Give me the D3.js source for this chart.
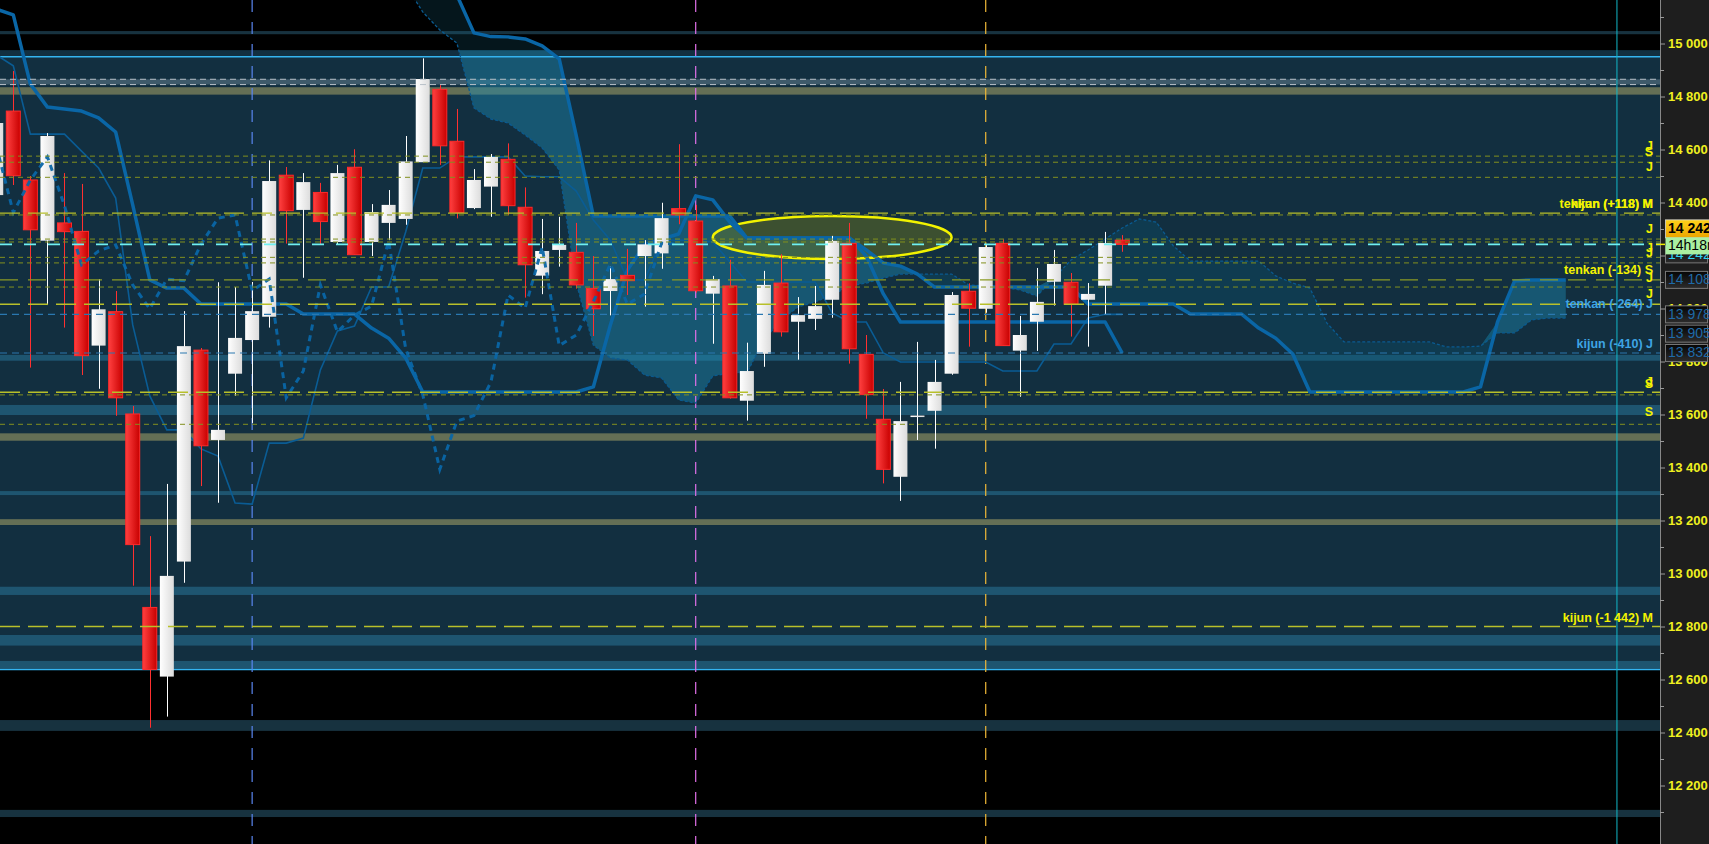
<!DOCTYPE html>
<html><head><meta charset="utf-8">
<script src="https://cdn.jsdelivr.net/npm/d3@7"></script>
<style>html,body{margin:0;padding:0;background:#000;overflow:hidden}svg{display:block}</style>
</head><body>
<svg id="chart" width="1709" height="844"></svg>
<script>
// ---------------- DATA ----------------
const firstBar = -1; // index of first candle in arrays below
const opens  = [14428,14745,14485,14256,14323,14291,13860,13988,13602,12872,12611,13045,13843,13504,13754,13881,13969,14503,14372,14438,14251,14533,14251,14323,14338,14552,14827,14631,14379,14460,14563,14382,14124,14221,14212,14076,14066,14125,14198,14208,14377,14330,14056,14085,13652,13829,14096,13950,13961,14033,14246,13827,13582,13365,13592,13614,13754,14065,13999,14246,13841,13950,14101,14099,14033,14086,14258];
const highs  = [14719,14896,14500,14662,14511,14470,14111,14066,13632,13141,13338,13990,13851,14099,14081,14100,14559,14534,14511,14474,14542,14601,14394,14447,14651,14944,14843,14753,14526,14583,14623,14457,14338,14346,14323,14198,14158,14225,14258,14399,14620,14391,14123,14184,13871,14142,14205,14043,14085,14274,14323,13900,13696,13723,13874,13806,14062,14095,14242,14261,13972,14153,14221,14134,14096,14289,14277];
const lows   = [14409,14466,13777,14013,13928,13749,13697,13595,12954,12418,12460,12965,13330,13267,13671,13568,13928,14245,14116,14240,14243,14203,14198,14258,14316,14552,14542,14340,14375,14346,14353,14041,14054,14158,14075,13896,13974,14051,14007,14150,14318,14060,13867,13660,13577,13780,13894,13807,13919,13965,13792,13584,13340,13274,13504,13471,13750,13856,13984,13860,13667,13840,14011,13894,13856,13979,14214];
const closes = [14700,14501,14297,14651,14290,13822,13997,13663,13109,12638,12991,13858,13482,13542,13889,13990,14481,14369,14477,14328,14511,14203,14364,14391,14555,14866,14614,14362,14485,14572,14388,14165,14217,14240,14089,13999,14111,14105,14242,14341,14353,14067,14111,13663,13764,14089,13912,13975,14009,14255,13848,13675,13393,13575,13596,13723,14051,14001,14232,13860,13900,14025,14168,14016,14055,14247,14242];

const tenkan = [14957,14916,14658,14658,14658,14594,14530,14417,13938,13670,13542,13542,13470,13443,13266,13262,13492,13492,13511,13768,13915,13934,14081,14081,14289,14530,14530,14572,14572,14572,14572,14500,14497,14497,14443,14334,14258,14108,14108,14258,14258,14258,14251,14176,14100,14100,14100,14100,14100,13983,13949,13949,13832,13798,13798,13798,13798,13798,13798,13764,13764,13764,13866,13866,13964,13978,13978];
const kijun  = [15130,15108,14847,14760,14753,14745,14719,14666,14391,14108,14077,14077,14017,14017,14017,14017,14017,14017,13979,13979,13979,13979,13926,13888,13813,13685,13685,13685,13685,13685,13685,13685,13685,13685,13685,13704,13938,14145,14240,14262,14281,14425,14410,14326,14266,14266,14266,14266,14266,14266,14266,14198,14055,13949,13949,13949,13949,13949,13949,13949,13949,13949,13949,13949,13949,13949,13832];

const cloudFirstBar = 22;
const senkouA = [15315,15221,15119,15051,15002,14757,14715,14700,14655,14606,14523,14096,13862,13813,13806,13749,13738,13655,13643,13745,13757,13757,13881,13957,14006,14025,14051,14085,14096,14115,14130,14130,14130,14130,14089,14085,14081,14070,14047,14115,14183,14221,14262,14304,14338,14326,14236,14179,14179,14179,14179,14179,14123,14096,14077,13945,13874,13874,13874,13874,13874,13874,13855,13855,13858,13908,13908,13957,13964,13964];
const senkouB = [15541,15391,15277,15221,15183,15040,15026,15025,15017,14991,14942,14651,14349,14349,14349,14349,14349,14349,14349,14349,14349,14266,14266,14266,14266,14266,14266,14266,14221,14172,14160,14130,14081,14081,14081,14081,14081,14081,14081,14081,14081,14017,14017,14017,14017,14017,14017,13979,13979,13979,13979,13926,13888,13828,13685,13685,13685,13685,13685,13685,13685,13685,13685,13685,13704,13949,14104,14108,14108,14108];
const chikouShift = 26;

// price axis
const majorTicks = [12200,12400,12600,12800,13000,13200,13400,13600,13800,14000,14200,14400,14600,14800,15000];
const minorTicks = [12100,12300,12500,12700,12900,13100,13300,13500,13700,13900,14100,14300,14500,14700,14900,15100];

// zones (price ranges)
const panelRange = [14975, 12638];
const panelEdges = [14950, 12638];
const tealBands  = [[13825,13803],[13636,13598],[13311,13296],[12950,12919],[12768,12728],[12670,12642]];
const oliveBands = [[14835,14807],[13529,13501],[13205,13183]];
const darkBands  = [[15047,15035],[12447,12406],[12108,12081]];
const grayBand   = [[14865,14845]];

// horizontal levels
const oliveShortLevels = [14575,14552,14495,14353,14262,14251,14193,14172,14081,13674,13563];
const yellowLongLevels = [14360,14016,13684,12800];
const oliveLongLevels  = [14108];
const blueLevels       = [13978,13832];
const grayLevels       = [14865,14845];

// vertical markers (bar index)
const vMarkers = [14, 40, 57];
const cyanMarker = 94;

// annotation ellipse (bar range, price range)
const ellipseBars = [41, 55];
const ellipsePrices = [14187, 14349];

// right labels
const labelTexts  = ["J","S","J","tenkan (+118) M","kijun (+118) M","J","J","J","tenkan (-134) S","J","J","tenkan (-264) J","kijun (-410) J","J","S","S","kijun (-1 442) M"];
const labelPrices = [14611,14587,14531,14392,14392,14296,14227,14206,14143,14114,14051,14013,13865,13719,13711,13606,12829];

// value boxes on axis
const boxValues = [14108, 13978, 13905, 13832];
const timerText = "14h18m";

// ---------------- CHART ----------------
const W = 1709, H = 844, axisX = 1660;
const svg = d3.select("#chart");
const x = d3.scaleLinear().domain([0, 65]).range([13.3, 13.3 + 65 * 17.06]);
const y = d3.scaleLinear().domain([15000, 12200]).range([43.5, 785.5]);
const fmt = d3.formatLocale({decimal: ".", thousands: " ", grouping: [3], currency: ["", ""]}).format(",");
const FONT = "'Liberation Sans', Arial, sans-serif";

const defs = svg.append("defs");
defs.append("clipPath").attr("id", "plotClip").append("rect").attr("x", 0).attr("y", 0).attr("width", axisX).attr("height", H);
defs.append("clipPath").attr("id", "panelClip").append("rect").attr("x", 0).attr("width", axisX)
  .attr("y", y(panelRange[0])).attr("height", y(panelRange[1]) - y(panelRange[0]));
defs.append("clipPath").attr("id", "outerClip").append("rect").attr("x", 0).attr("width", axisX)
  .attr("y", 0).attr("height", y(panelRange[0]));
const gr = defs.append("linearGradient").attr("id", "redG").attr("x1", 0).attr("x2", 1).attr("y1", 0).attr("y2", 0);
gr.append("stop").attr("offset", "0%").attr("stop-color", "#ff4040");
gr.append("stop").attr("offset", "100%").attr("stop-color", "#c80000");
const gw = defs.append("linearGradient").attr("id", "whiteG").attr("x1", 0).attr("x2", 1).attr("y1", 0).attr("y2", 0);
gw.append("stop").attr("offset", "0%").attr("stop-color", "#ffffff");
gw.append("stop").attr("offset", "100%").attr("stop-color", "#dcdcdc");
const gb = defs.append("linearGradient").attr("id", "boxG").attr("x1", 0).attr("x2", 0).attr("y1", 0).attr("y2", 1);
gb.append("stop").attr("offset", "0%").attr("stop-color", "#050505");
gb.append("stop").attr("offset", "100%").attr("stop-color", "#2c2c2c");
const gg = defs.append("linearGradient").attr("id", "goldG").attr("x1", 0).attr("x2", 0).attr("y1", 0).attr("y2", 1);
gg.append("stop").attr("offset", "0%").attr("stop-color", "#ffd21a");
gg.append("stop").attr("offset", "100%").attr("stop-color", "#eaa400");

svg.append("rect").attr("width", W).attr("height", H).attr("fill", "#000");
const plot = svg.append("g").attr("clip-path", "url(#plotClip)");

// panel
plot.append("rect").attr("x", 0).attr("width", axisX)
  .attr("y", y(panelRange[0])).attr("height", y(panelRange[1]) - y(panelRange[0])).attr("fill", "#122f40");

function bands(arr, color) {
  plot.append("g").selectAll("rect").data(arr).join("rect")
    .attr("x", 0).attr("width", axisX)
    .attr("y", d => y(d[0])).attr("height", d => y(d[1]) - y(d[0]))
    .attr("fill", color);
}
bands(darkBands, "#17323f");
bands(grayBand, "#3e5a6a");
bands(oliveBands, "#646f55");
bands(tealBands, "#1e5570");

// cloud
const cloudData = senkouA.map((a, i) => ({bar: cloudFirstBar + i, a, b: senkouB[i]}));
const bearArea = d3.area().x(d => x(d.bar)).y0(d => y(d.a)).y1(d => y(Math.max(d.a, d.b)));
const bullArea = d3.area().x(d => x(d.bar)).y0(d => y(d.b)).y1(d => y(Math.max(d.a, d.b)));
plot.append("path").datum(cloudData).attr("clip-path", "url(#panelClip)")
  .attr("d", bearArea).attr("fill", "#1f8ab0").attr("fill-opacity", 0.45);
plot.append("path").datum(cloudData).attr("clip-path", "url(#outerClip)")
  .attr("d", bearArea).attr("fill", "#1f8ab0").attr("fill-opacity", 0.16);
plot.append("path").datum(cloudData)
  .attr("d", bullArea).attr("fill", "#0a5a78").attr("fill-opacity", 0.3);

// panel edges
plot.append("g").selectAll("line").data(panelEdges).join("line")
  .attr("x1", 0).attr("x2", axisX).attr("y1", d => y(d)).attr("y2", d => y(d))
  .attr("stroke", "#34b4f0").attr("stroke-width", 1.5);

// vertical markers
const vColors = ["#5a86f0", "#e070e8", "#f0b838"];
plot.append("g").selectAll("line").data(vMarkers).join("line")
  .attr("x1", d => x(d)).attr("x2", d => x(d)).attr("y1", 0).attr("y2", H)
  .attr("stroke", (d, i) => vColors[i]).attr("stroke-width", 1.2).attr("stroke-dasharray", "12,10");
plot.append("line").attr("x1", x(cyanMarker)).attr("x2", x(cyanMarker)).attr("y1", 0).attr("y2", H)
  .attr("stroke", "#12b8c8").attr("stroke-width", 1);

// ellipse
plot.append("ellipse")
  .attr("cx", (x(ellipseBars[0]) + x(ellipseBars[1])) / 2)
  .attr("cy", (y(ellipsePrices[0]) + y(ellipsePrices[1])) / 2)
  .attr("rx", (x(ellipseBars[1]) - x(ellipseBars[0])) / 2)
  .attr("ry", (y(ellipsePrices[0]) - y(ellipsePrices[1])) / 2)
  .attr("fill", "rgb(102,113,32)").attr("fill-opacity", 0.5)
  .attr("stroke", "#f2f200").attr("stroke-width", 2.5);

// ichimoku lines
const lineGen = d3.line().x(d => x(d[0])).y(d => y(d[1]));
const tenkanPts = tenkan.map((v, i) => [firstBar + i, v]);
const kijunPts = kijun.map((v, i) => [firstBar + i, v]);
const sA = senkouA.map((v, i) => [cloudFirstBar + i, v]);
const sB = senkouB.map((v, i) => [cloudFirstBar + i, v]);
plot.append("path").datum(sA).attr("d", lineGen).attr("fill", "none")
  .attr("stroke", "#0a5a90").attr("stroke-width", 1.3).attr("stroke-dasharray", "3,2");
plot.append("path").datum(sB).attr("d", lineGen).attr("fill", "none")
  .attr("stroke", "#0a66a6").attr("stroke-width", 3.5).attr("stroke-linejoin", "round");
plot.append("path").datum(tenkanPts).attr("d", lineGen).attr("fill", "none")
  .attr("stroke", "#0a5c94").attr("stroke-width", 1.6);
plot.append("path").datum(kijunPts).attr("d", lineGen).attr("fill", "none")
  .attr("stroke", "#0a66a6").attr("stroke-width", 3.5).attr("stroke-linejoin", "round");

// candles
const candles = opens.map((o, i) => ({bar: firstBar + i, o, h: highs[i], l: lows[i], c: closes[i]}));
const bw = (x(1) - x(0)) * 0.82;
const cg = plot.append("g");
cg.selectAll("line").data(candles).join("line")
  .attr("x1", d => Math.round(x(d.bar)) + 0.5).attr("x2", d => Math.round(x(d.bar)) + 0.5)
  .attr("y1", d => y(d.h)).attr("y2", d => y(d.l))
  .attr("stroke", d => d.c < d.o ? "#ff3030" : "#ffffff").attr("stroke-width", 1);
cg.selectAll("rect").data(candles).join("rect")
  .attr("x", d => x(d.bar) - bw / 2).attr("width", bw)
  .attr("y", d => y(Math.max(d.o, d.c)))
  .attr("height", d => Math.max(1.5, Math.abs(y(d.o) - y(d.c))))
  .attr("fill", d => d.c < d.o ? "url(#redG)" : "url(#whiteG)")
  .attr("stroke", d => d.c < d.o ? "#ff2a2a" : "none").attr("stroke-width", 1);

// chikou
const chikouPts = [];
for (let b = firstBar; b + chikouShift <= firstBar + closes.length - 1; b++) {
  chikouPts.push([b, closes[b + chikouShift - firstBar]]);
}
plot.append("path").datum(chikouPts).attr("d", lineGen).attr("fill", "none")
  .attr("stroke", "#0a66a6").attr("stroke-width", 3).attr("stroke-dasharray", "6,5").attr("opacity", 0.95);

// horizontal levels
function levels(arr, color, dash, width) {
  plot.append("g").selectAll("line").data(arr).join("line")
    .attr("x1", 0).attr("x2", axisX).attr("y1", d => y(d)).attr("y2", d => y(d))
    .attr("stroke", color).attr("stroke-width", width).attr("stroke-dasharray", dash);
}
levels(grayLevels, "#b8c0c8", "6,4", 1);
levels(oliveShortLevels, "#82901e", "5,4", 1);
levels(oliveLongLevels, "#8a9a24", "18,10", 1.2);
levels(yellowLongLevels, "#b8c02a", "20,8", 1.4);
levels(blueLevels, "#2a78b0", "7,5", 1.2);
const last = closes[closes.length - 1];
levels([last], "#70f0f0", "12,12", 1.6);

// labels
const blueLabels = new Set(["tenkan (-264) J", "kijun (-410) J"]);
plot.append("g").selectAll("text").data(labelTexts).join("text")
  .attr("x", 1653).attr("y", (d, i) => y(labelPrices[i]))
  .attr("text-anchor", "end").attr("dominant-baseline", "middle")
  .attr("font-family", FONT).attr("font-weight", "bold").attr("font-size", "12.5px")
  .attr("fill", d => blueLabels.has(d) ? "#3ea4e4" : "#f2f200")
  .text(d => d);

// axis
svg.append("rect").attr("x", axisX).attr("y", 0).attr("width", W - axisX).attr("height", H).attr("fill", "#1e1e1e");
const ax = svg.append("g").attr("transform", `translate(${axisX},0)`)
  .call(d3.axisRight(y).tickValues(majorTicks).tickSize(5).tickPadding(3).tickFormat(fmt));
ax.select(".domain").attr("stroke", "#888").attr("d", `M0.5,0V${H}`);
ax.selectAll(".tick line").attr("stroke", "#999");
ax.selectAll(".tick text").attr("fill", "#f0f020").attr("font-family", FONT)
  .attr("font-weight", "bold").attr("font-size", "13px");
const mn = svg.append("g").attr("transform", `translate(${axisX},0)`)
  .call(d3.axisRight(y).tickValues(minorTicks).tickSize(4).tickFormat(""));
mn.select(".domain").remove();
mn.selectAll(".tick line").attr("stroke", "#999");

// value boxes
const bx = svg.append("g");
boxValues.forEach(v => {
  bx.append("rect").attr("x", 1665.5).attr("y", y(v) - 8.5).attr("width", 42).attr("height", 17)
    .attr("fill", "url(#boxG)").attr("stroke", "#777");
  bx.append("text").attr("x", 1668).attr("y", y(v) + 0.5).attr("dominant-baseline", "middle")
    .attr("font-family", FONT).attr("font-size", "14px").attr("fill", "#1f6aa8").text(fmt(v));
});
// current price cluster
const yl = y(last);
bx.append("rect").attr("x", 1665.5).attr("y", yl + 1.5).attr("width", 42).attr("height", 17)
  .attr("fill", "url(#boxG)").attr("stroke", "#777");
bx.append("text").attr("x", 1668).attr("y", yl + 10.5).attr("dominant-baseline", "middle")
  .attr("font-family", FONT).attr("font-size", "14px").attr("fill", "#30d0f0").text(fmt(last));
bx.append("rect").attr("x", 1665.5).attr("y", yl - 24.5).attr("width", 45).attr("height", 18)
  .attr("fill", "url(#goldG)").attr("stroke", "#d8d8d8").attr("stroke-width", 0.8);
bx.append("text").attr("x", 1668).attr("y", yl - 15).attr("dominant-baseline", "middle")
  .attr("font-family", FONT).attr("font-weight", "bold").attr("font-size", "14px").attr("fill", "#000").text(fmt(last));
bx.append("rect").attr("x", 1665.5).attr("y", yl - 7).attr("width", 45).attr("height", 17)
  .attr("fill", "#aaf0a2");
bx.append("text").attr("x", 1668).attr("y", yl + 1.5).attr("dominant-baseline", "middle")
  .attr("font-family", FONT).attr("font-size", "14px").attr("fill", "#000").text(timerText);
bx.append("line").attr("x1", axisX - 4).attr("x2", 1665).attr("y1", yl).attr("y2", yl)
  .attr("stroke", "#f0f000").attr("stroke-width", 1.5);
</script>
</body></html>
